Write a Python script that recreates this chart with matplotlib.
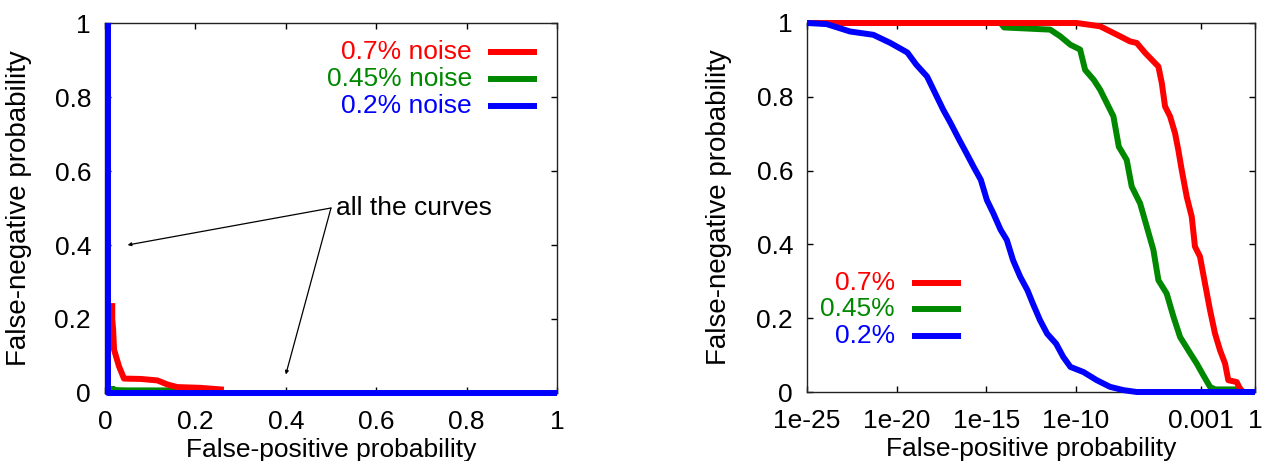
import matplotlib
matplotlib.use("Agg")
import matplotlib.pyplot as plt
import numpy as np

plt.rcParams['font.family'] = ['Liberation Sans', 'DejaVu Sans']

# ---------------- data ----------------
series_labels_left = ["0.7% noise", "0.45% noise", "0.2% noise"]
series_labels_right = ["0.7%", "0.45%", "0.2%"]
series_colors = ["#ff0000", "#008800", "#0000ff"]

# Left panel (linear axes)
left_red_x = [0.016, 0.016, 0.018, 0.020, 0.031, 0.042, 0.079, 0.116, 0.138, 0.160, 0.210, 0.263]
left_red_y = [0.243, 0.200, 0.171, 0.117, 0.072, 0.039, 0.038, 0.034, 0.023, 0.016, 0.014, 0.009]
left_green_x = [0.016, 0.016, 0.050, 0.150, 0.260]
left_green_y = [0.019, 0.008, 0.007, 0.007, 0.006]
left_blue_x = [0.007, 0.007, 1.0]
left_blue_y = [1.0, 0.0, 0.0]

# Right panel (log x); x given as log10(false-positive probability)
right_red_logx = [-25.0, -9.94, -8.64, -8.27, -7.53, -6.97, -6.60, -6.13, -5.67, -5.39, -5.20,
                  -5.02, -4.74, -4.46, -4.28, -4.09, -3.81, -3.53, -3.35, -3.07, -2.79, -2.51,
                  -2.23, -1.95, -1.67, -1.49, -1.02, -0.84, -0.65, 0.0]
right_red_y = [1.0, 1.0, 0.991, 0.982, 0.964, 0.950, 0.946, 0.919, 0.896, 0.882, 0.837,
               0.774, 0.747, 0.701, 0.656, 0.602, 0.529, 0.475, 0.394, 0.367, 0.294, 0.222,
               0.158, 0.113, 0.077, 0.032, 0.027, 0.009, 0.0, 0.0]
right_green_logx = [-25.0, -14.2, -14.0, -11.43, -10.87, -10.3, -9.76, -9.48, -9.0, -8.64, -8.27,
                    -7.9, -7.6, -7.16, -6.88, -6.41, -6.04, -5.67, -5.39, -4.93, -4.55, -4.18,
                    -3.72, -3.25, -2.88, -2.51, -2.23, -0.7]
right_green_y = [1.0, 1.0, 0.988, 0.982, 0.964, 0.941, 0.928, 0.873, 0.846, 0.819, 0.783,
                 0.747, 0.665, 0.629, 0.557, 0.511, 0.448, 0.385, 0.303, 0.267, 0.204, 0.149,
                 0.113, 0.077, 0.045, 0.014, 0.007, 0.007]
right_blue_logx = [-25.0, -23.9, -22.6, -21.3, -20.35, -19.4, -18.9, -18.3, -17.75, -17.4, -17.0,
                   -16.5, -16.1, -15.7, -15.3, -14.96, -14.6, -14.2, -13.85, -13.5, -13.1, -12.7,
                   -12.4, -12.0, -11.6, -11.1, -10.7, -10.3, -9.57, -8.83, -8.09, -7.34, -6.6, 0.0]
right_blue_y = [1.0, 0.997, 0.977, 0.968, 0.946, 0.920, 0.887, 0.855, 0.800, 0.765, 0.730,
                0.683, 0.647, 0.610, 0.575, 0.520, 0.484, 0.440, 0.412, 0.357, 0.312, 0.276,
                0.240, 0.195, 0.158, 0.131, 0.095, 0.068, 0.054, 0.032, 0.014, 0.005, 0.0, 0.0]

left_ticks = [0, 0.2, 0.4, 0.6, 0.8, 1]
left_ticklabels = ["0", "0.2", "0.4", "0.6", "0.8", "1"]
right_xticks = [1e-25, 1e-20, 1e-15, 1e-10, 1e-3, 1]
right_xticklabels = ["1e-25", "1e-20", "1e-15", "1e-10", "0.001", "1"]

annot_text = "all the curves"
annot_from = (0.5, 0.5)
annot_targets = [(0.05, 0.40), (0.40, 0.05)]

xlabel = "False-positive probability"
ylabel = "False-negative probability"

# ---------------- figure ----------------
W, H = 1265, 461
fig = plt.figure(figsize=(W / 100, H / 100), dpi=100)
axL = fig.add_axes([105 / W, 1 - 393 / H, (557 - 105) / W, (393 - 23) / H])
axR = fig.add_axes([807 / W, 1 - 392 / H, (1255 - 807) / W, (392 - 23) / H])

FS = 19
LW = 4.3

def style(ax):
    ax.tick_params(direction='in', length=4, width=1, top=True, right=True,
                   labelsize=FS, pad=10)
    ax.tick_params(axis='x', pad=12)
    for s in ax.spines.values():
        s.set_color('#222222')
        s.set_linewidth(1.0)
    ax.set_ylim(0, 1)
    ax.set_yticks(left_ticks)
    ax.set_yticklabels(left_ticklabels)
    ax.set_xlabel(xlabel, fontsize=FS)
    ax.set_ylabel(ylabel, fontsize=20)
    ax.minorticks_off()

# Left panel
axL.plot(left_red_x, left_red_y, color=series_colors[0], lw=LW, clip_on=False, zorder=3,
         solid_capstyle='butt')
axL.plot(left_green_x, left_green_y, color=series_colors[1], lw=LW, clip_on=False, zorder=2,
         solid_capstyle='butt')
axL.plot(left_blue_x, left_blue_y, color=series_colors[2], lw=LW, clip_on=False, zorder=4,
         solid_capstyle='butt')
axL.set_xlim(0, 1)
axL.set_xticks(left_ticks)
axL.set_xticklabels(left_ticklabels)
style(axL)

for tx, ty in annot_targets:
    axL.annotate("", xy=(tx, ty), xytext=annot_from,
                 arrowprops=dict(arrowstyle='-|>', lw=0.9, color='black',
                                 mutation_scale=5, shrinkA=0, shrinkB=0))
axL.text(annot_from[0] + 0.012, annot_from[1], annot_text, fontsize=FS,
         ha='left', va='center')

# left legend
leg_rows_L = [0.922, 0.849, 0.776]
for lab, col, yy in zip(series_labels_left, series_colors, leg_rows_L):
    axL.text(0.812, yy, lab, color=col, fontsize=FS, ha='right', va='center',
             transform=axL.transAxes)
    axL.plot([0.847, 0.956], [yy, yy], color=col, lw=LW, transform=axL.transAxes,
             solid_capstyle='butt')

# Right panel
for lx, yv, col, z in [(right_red_logx, right_red_y, series_colors[0], 3),
                       (right_green_logx, right_green_y, series_colors[1], 2),
                       (right_blue_logx, right_blue_y, series_colors[2], 4)]:
    axR.plot(np.power(10.0, lx), yv, color=col, lw=LW, clip_on=False, zorder=z,
             solid_capstyle='butt')
axR.set_xscale('log')
axR.set_xlim(1e-25, 1)
axR.set_xticks(right_xticks)
axR.set_xticklabels(right_xticklabels)
style(axR)

leg_rows_R = [0.295, 0.225, 0.152]
for lab, col, yy in zip(series_labels_right, series_colors, leg_rows_R):
    axR.text(0.196, yy, lab, color=col, fontsize=FS, ha='right', va='center',
             transform=axR.transAxes)
    axR.plot([0.234, 0.344], [yy, yy], color=col, lw=LW, transform=axR.transAxes,
             solid_capstyle='butt')

axL.xaxis.set_label_coords(0.5, -0.122)
axR.xaxis.set_label_coords(0.5, -0.122)
axL.yaxis.set_label_coords(-0.161, 0.5)
axR.yaxis.set_label_coords(-0.167, 0.5)

fig.savefig("out.png", dpi=100)
